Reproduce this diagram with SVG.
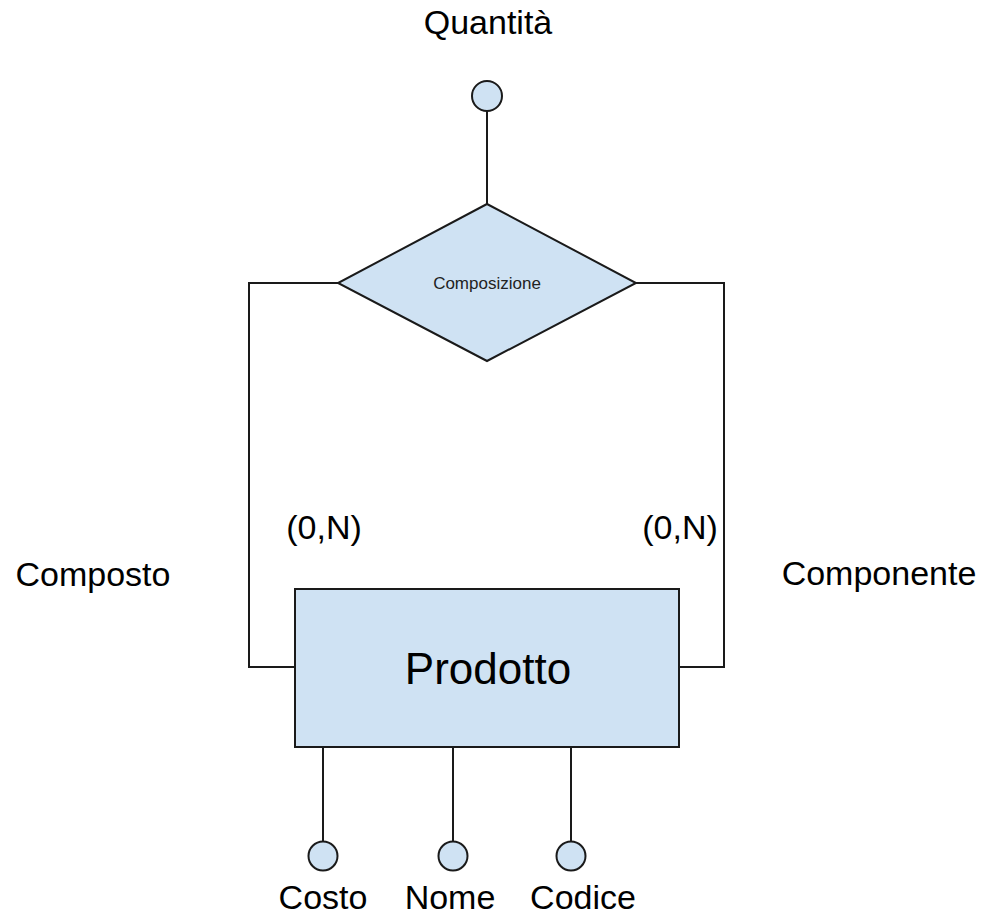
<svg xmlns="http://www.w3.org/2000/svg" width="983" height="916" viewBox="0 0 983 916">
<style>
.shape{fill:#cfe2f3;stroke:#1a1a1a;stroke-width:2}
.conn{fill:none;stroke:#1a1a1a;stroke-width:2}
.lbl{font-family:"Liberation Sans",Arial,sans-serif;font-size:34px;fill:#000;text-anchor:middle}
</style>
<rect width="983" height="916" fill="#fff"/>
<g id="connectors">
<path class="conn" d="M338,283 H249 V667 H295"/>
<path class="conn" d="M636,283 H724 V667 H679"/>
<path class="conn" d="M487,111 V204"/>
<path class="conn" d="M323,747 V842"/>
<path class="conn" d="M453,747 V842"/>
<path class="conn" d="M571,747 V842"/>
</g>
<g id="composizione">
<polygon class="shape" points="487,204 636,283 487,361 338,283"/>
<text x="487" y="289" style="font-family:'Liberation Sans',Arial,sans-serif;font-size:17px;fill:#222;text-anchor:middle">Composizione</text>
</g>
<g id="prodotto">
<rect class="shape" x="295" y="589" width="384" height="158"/>
<text x="488" y="684" style="font-family:'Liberation Sans',Arial,sans-serif;font-size:44px;fill:#000;text-anchor:middle">Prodotto</text>
</g>
<g id="quantita">
<circle class="shape" cx="487" cy="96" r="15"/>
<text class="lbl" x="488" y="34">Quantità</text>
</g>
<g id="costo">
<circle class="shape" cx="323" cy="856" r="14.5"/>
<text class="lbl" x="323" y="909">Costo</text>
</g>
<g id="nome">
<circle class="shape" cx="453" cy="856" r="14.5"/>
<text class="lbl" x="450" y="909">Nome</text>
</g>
<g id="codice">
<circle class="shape" cx="571" cy="856" r="14.5"/>
<text class="lbl" x="583" y="909">Codice</text>
</g>
<g id="labels">
<text class="lbl" x="324" y="539">(0,N)</text>
<text class="lbl" x="680" y="539">(0,N)</text>
<text class="lbl" x="93" y="586">Composto</text>
<text class="lbl" x="879" y="585">Componente</text>
</g>
</svg>
